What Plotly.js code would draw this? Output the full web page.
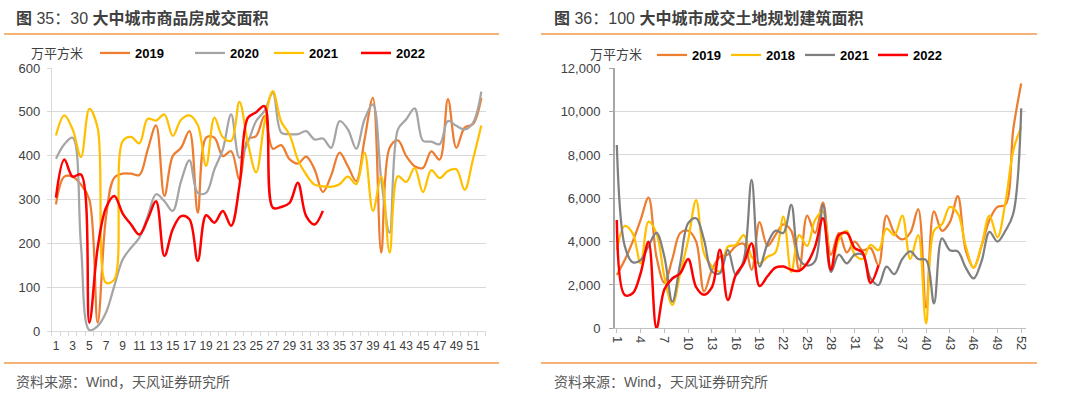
<!DOCTYPE html>
<html>
<head>
<meta charset="utf-8">
<script src="https://cdn.plot.ly/plotly-3.0.1.min.js"></script>
<style>
html,body{margin:0;padding:0;background:#fff;}
#chart{width:1080px;height:396px;}
</style>
</head>
<body>
<div id="chart"></div>
<script>
// ---------- DATA ----------
const weeks = [1,2,3,4,5,6,7,8,9,10,11,12,13,14,15,16,17,18,19,20,21,22,23,24,25,26,27,28,29,30,31,32,33,34,35,36,37,38,39,40,41,42,43,44,45,46,47,48,49,50,51,52];

// Left chart: 30 大中城市商品房成交面积 (万平方米)
const left2019 = [289,352,352,334,300,19,260,350,359,359,356,414,469,308,399,418,456,270,441,441,399,410,346,437,445,490,416,424,392,382,398,369,317,355,407,376,342,437,532,179,418,435,399,376,372,410,391,529,418,464,472,532];
const left2020 = [393,426,441,195,2,11,42,103,163,190,213,262,312,296,274,342,389,315,315,369,414,494,395,430,479,502,543,453,449,449,456,437,439,418,479,460,416,483,517,346,224,460,483,508,434,432,426,479,468,460,475,546];
const left2021 = [446,492,460,397,507,463,110,118,433,443,428,484,480,494,445,482,492,470,377,487,442,434,523,430,362,475,547,478,448,391,357,334,330,329,335,352,335,407,274,353,179,353,340,372,317,367,349,365,369,322,392,469];
const left2022 = [304,391,352,357,19,190,281,308,268,243,220,255,296,171,232,262,255,160,264,247,274,240,331,486,499,513,281,283,292,338,262,243,274];

// Right chart: 100 大中城市成交土地规划建筑面积 (万平方米)
const right2019 = [2460,3150,4000,5000,6030,3300,2100,3200,4400,4500,4000,1700,2700,3300,3400,3800,3900,2700,4900,3800,4300,4800,4500,2700,5200,4400,5800,3400,4400,3500,4000,3600,3700,2900,5200,4400,4100,4400,5500,950,5400,4500,4900,6100,3600,2800,3800,5000,5600,5700,9200,11300];
const right2018 = [3620,4720,4380,3000,4920,4380,2380,1080,2540,4080,5920,3460,2850,2620,3770,3850,4300,3300,3000,3300,3500,5150,2600,4300,3800,5000,5380,2700,4100,4500,3400,3200,3850,3600,4600,4300,5200,3200,4300,230,4500,4800,5600,5300,3800,2800,3850,5200,4200,5800,8200,9300];
const right2021 = [8460,3800,3050,3150,3800,4400,3300,1230,3000,4850,5080,4080,2620,2540,3620,2460,3150,6850,2850,3900,4500,4400,5700,3200,2900,3100,5700,2600,3400,3000,3400,3400,2300,2000,2850,2500,3200,3550,3200,3150,1150,4150,3600,3550,2800,2300,3100,4450,4000,4500,5300,10150];
const right2022 = [5000,1540,1615,2540,4000,0,1800,2300,2540,3200,1900,1550,1900,3620,1310,2460,3000,3920,1950,2400,2800,2850,2700,2650,3000,3770,5080,2700,4300,4400,3700,3500,2100,2900];

const leftTicks = [1,3,5,7,9,11,13,15,17,19,21,23,25,27,29,31,33,35,37,39,41,43,45,47,49,51];
const rightTicks = [1,4,7,10,13,16,19,22,25,28,31,34,37,40,43,46,49,52];

const leftTitle = '<b>图</b> 35：30 <b>大中城市商品房成交面积</b>';
const rightTitle = '<b>图</b> 36：100 <b>大中城市成交土地规划建筑面积</b>';
const unitLabel = '万平方米';
const sourceLabel = '资料来源：Wind，天风证券研究所';

// ---------- STYLE ----------
const W = 1080, H = 396;
const FONT = 'Liberation Sans, Arial, "Noto Sans CJK SC", sans-serif';
const C = {orange:'#ED7D31', gray:'#A5A5A5', darkgray:'#7F7F7F', yellow:'#FFC000', red:'#FF0000', accent:'#F39A4A', grid:'#D9D9D9'};
const px = x => x / W;
const py = y => 1 - y / H;

function line(name, x, y, color, xa, ya, legendId, width) {
  return {
    type:'scatter', mode:'lines', name:'<b>'+name+'</b>', x:x, y:y,
    xaxis:xa, yaxis:ya, legend:legendId, showlegend:true,
    line:{color:color, width:width||2.25, shape:'spline', smoothing:1},
    hoverinfo:'skip'
  };
}

const traces = [
  line('2019', weeks, left2019, C.orange, 'x', 'y', 'legend', 2.25),
  line('2020', weeks, left2020, C.gray, 'x', 'y', 'legend2', 2.25),
  line('2021', weeks, left2021, C.yellow, 'x', 'y', 'legend3', 2.25),
  line('2022', weeks.slice(0, left2022.length), left2022, C.red, 'x', 'y', 'legend4', 2.5),
  line('2019', weeks, right2019, C.orange, 'x2', 'y2', 'legend5', 2.25),
  line('2018', weeks, right2018, C.yellow, 'x2', 'y2', 'legend6', 2.25),
  line('2021', weeks, right2021, C.darkgray, 'x2', 'y2', 'legend7', 2.25),
  line('2022', weeks.slice(0, right2022.length), right2022, C.red, 'x2', 'y2', 'legend8', 2.5)
];

function legendAt(xpx, ypx) {
  return {x:px(xpx), y:py(ypx), xanchor:'left', yanchor:'middle', orientation:'h', visible:true,
    bgcolor:'rgba(0,0,0,0)', borderwidth:0, font:{family:FONT, size:13, color:'#000'}};
}

const tickFont = {family:FONT, size:12, color:'#404040'};
const tickFont13 = {family:FONT, size:13, color:'#404040'};

const layout = {
  width:W, height:H, margin:{l:0, r:0, t:0, b:0},
  paper_bgcolor:'#fff', plot_bgcolor:'#fff',
  showlegend:true,
  font:{family:FONT, color:'#404040'},
  xaxis:{
    domain:[px(51.8), px(485.5)], range:[0.5, 52.5], anchor:'y',
    tickmode:'array', tickvals:leftTicks, ticktext:leftTicks.map(String),
    ticks:'', showgrid:false, zeroline:false,
    showline:true, linecolor:C.grid, linewidth:1,
    minor:{tick0:0.5, dtick:1, ticks:'outside', ticklen:4, tickcolor:C.grid, showgrid:false},
    tickfont:tickFont, tickangle:0, ticklabelstandoff:4
  },
  yaxis:{
    domain:[py(331), py(68)], range:[0, 600], dtick:100, anchor:'x',
    showgrid:true, gridcolor:C.grid, gridwidth:1, zeroline:false,
    showline:true, linecolor:C.grid, linewidth:1,
    ticks:'outside', ticklen:4, tickcolor:C.grid,
    tickfont:tickFont13, ticklabelstandoff:4
  },
  xaxis2:{
    domain:[px(615), px(1026)], range:[0.77, 52.6], anchor:'y2',
    tickmode:'array', tickvals:rightTicks, ticktext:rightTicks.map(String),
    ticks:'outside', ticklen:4, tickcolor:'#BFBFBF',
    showgrid:false, zeroline:false,
    showline:true, linecolor:'#BFBFBF', linewidth:1,
    tickfont:tickFont13, tickangle:90
  },
  yaxis2:{
    domain:[py(328.3), py(68.3)], range:[0, 12000], dtick:2000, anchor:'x2',
    tickformat:',d',
    showgrid:true, gridcolor:C.grid, gridwidth:1, zeroline:false,
    showline:true, linecolor:'#A6A6A6', linewidth:2,
    ticks:'outside', ticklen:4, tickcolor:'#A6A6A6',
    tickfont:tickFont13, ticklabelstandoff:6
  },
  legend:legendAt(95, 53),
  legend2:legendAt(190, 53),
  legend3:legendAt(269, 53),
  legend4:legendAt(356, 53),
  legend5:legendAt(652, 55),
  legend6:legendAt(726, 55),
  legend7:legendAt(800, 55),
  legend8:legendAt(873, 55),
  shapes:[
    {type:'line', xref:'paper', yref:'paper', x0:px(4), x1:px(499), y0:py(34), y1:py(34), line:{color:C.accent, width:1.5}},
    {type:'line', xref:'paper', yref:'paper', x0:px(541), x1:px(1037), y0:py(34), y1:py(34), line:{color:C.accent, width:1.5}},
    {type:'line', xref:'paper', yref:'paper', x0:px(4), x1:px(499), y0:py(363), y1:py(363), line:{color:C.accent, width:1.5}},
    {type:'line', xref:'paper', yref:'paper', x0:px(541), x1:px(1037), y0:py(363), y1:py(363), line:{color:C.accent, width:1.5}}
  ],
  annotations:[
    {text:leftTitle, xref:'paper', yref:'paper', x:px(14), y:py(18), xanchor:'left', yanchor:'middle', showarrow:false, font:{family:FONT, size:16, color:'#3F3F3F'}},
    {text:rightTitle, xref:'paper', yref:'paper', x:px(552), y:py(18), xanchor:'left', yanchor:'middle', showarrow:false, font:{family:FONT, size:16, color:'#3F3F3F'}},
    {text:unitLabel, xref:'paper', yref:'paper', x:px(29), y:py(53), xanchor:'left', yanchor:'middle', showarrow:false, font:{family:FONT, size:13, color:'#404040'}},
    {text:unitLabel, xref:'paper', yref:'paper', x:px(588), y:py(55), xanchor:'left', yanchor:'middle', showarrow:false, font:{family:FONT, size:13, color:'#404040'}},
    {text:sourceLabel, xref:'paper', yref:'paper', x:px(14), y:py(382), xanchor:'left', yanchor:'middle', showarrow:false, font:{family:FONT, size:14, color:'#595959'}},
    {text:sourceLabel, xref:'paper', yref:'paper', x:px(552), y:py(382), xanchor:'left', yanchor:'middle', showarrow:false, font:{family:FONT, size:14, color:'#595959'}}
  ]
};

Plotly.newPlot('chart', traces, layout, {displayModeBar:false, staticPlot:true});
</script>
</body>
</html>
